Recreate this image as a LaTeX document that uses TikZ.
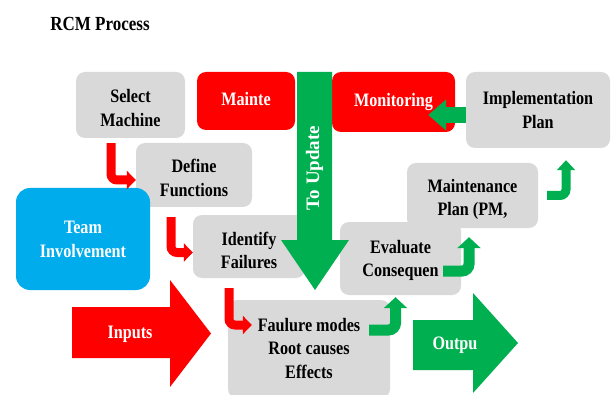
\documentclass[tikz,border=0pt]{standalone}
\usepackage{fontspec}
\setmainfont{Liberation Serif}
\usetikzlibrary{arrows.meta}
\definecolor{rcmred}{RGB}{255,0,0}
\definecolor{rcmgreen}{RGB}{0,176,80}
\definecolor{rcmgray}{RGB}{217,217,217}
\definecolor{rcmblue}{RGB}{0,172,236}
\newcommand{\sqz}[2][0pt]{\raisebox{#1}[\height][\depth]{\scalebox{0.85}[1]{\begin{tabular}{@{}c@{}}#2\end{tabular}}}}
\begin{document}
\begin{tikzpicture}[x=1pt,y=-1pt,
  box/.style={fill=rcmgray, rounded corners=9pt, align=center, font=\fontsize{19}{23.5}\selectfont\bfseries, text=black, inner sep=0pt},
  redbox/.style={box, fill=rcmred, text=white},
  bluebox/.style={box, fill=rcmblue, text=white, rounded corners=14pt},
  rconn/.style={draw=rcmred, line width=9pt, rounded corners=6pt, -{Triangle[width=18pt,length=9pt]}},
  gconn/.style={draw=rcmgreen, line width=11pt, rounded corners=7pt, -{Triangle[width=23pt,length=11pt]}},
  gsmall/.style={draw=rcmgreen, line width=9pt, rounded corners=6pt, -{Triangle[width=18pt,length=10pt]}},
  bigtext/.style={font=\fontsize{19}{23}\selectfont\bfseries, text=white, inner sep=0pt},
]
\useasboundingbox (0,0) rectangle (612,395);
\fill[white] (0,0) rectangle (612,395);

\node[font=\fontsize{20}{23}\selectfont\bfseries, inner sep=0pt] (title) at (100,26) {\sqz{RCM Process}};

% boxes
\node[box, minimum width=109pt, minimum height=66pt] (sel) at (130.5,105) {\sqz[-5pt]{Select\\Machine}};
\node[redbox, minimum width=98pt, minimum height=58pt] (mnt) at (246,101) {\sqz{Mainte}};
\node[redbox, minimum width=123pt, minimum height=60pt] (mon) at (393.5,102) {\sqz{Monitoring}};
\node[box, minimum width=144pt, minimum height=76pt] (imp) at (538,110) {\sqz[-2pt]{Implementation\\Plan}};
\node[box, minimum width=116pt, minimum height=64pt] (def) at (194,175) {\sqz[-5pt]{Define\\Functions}};
\node[bluebox, minimum width=134pt, minimum height=102pt] (team) at (83,239) {\sqz[-2pt]{Team\\Involvement}};
\node[box, minimum width=112pt, minimum height=63pt] (idf) at (249,246.5) {\sqz[-6pt]{Identify\\Failures}};
\node[box, minimum width=131pt, minimum height=65pt] (mp) at (472.5,195.5) {\sqz[-4pt]{Maintenance\\Plan (PM,}};
\node[box, minimum width=121pt, minimum height=73pt] (ev) at (400.5,258.5) {\sqz[-2pt]{Evaluate\\Consequen}};
\node[box, minimum width=162pt, minimum height=98pt] (fm) at (309,349) {\sqz[-1pt]{Faulure modes\\Root causes\\Effects}};

% big arrows
\fill[rcmred] (72,307) -- (170,307) -- (170,280) -- (211,333.5) -- (170,387) -- (170,358) -- (72,358) -- cycle;
\node[bigtext] (inp) at (130,334) {\sqz{Inputs}};
\fill[rcmgreen] (413,320) -- (473,320) -- (473,293) -- (518,343) -- (473,393) -- (473,370) -- (413,370) -- cycle;
\node[bigtext] (outp) at (455,345) {\sqz{Outpu}};
\fill[rcmgreen] (297,72) -- (332,72) -- (332,240) -- (349,240) -- (315,290) -- (281,240) -- (297,240) -- cycle;
\node[bigtext, rotate=90] (upd) at (314.5,168) {To Update};

% connectors
\draw[rconn] ([xshift=-19.5pt,yshift=-5pt]sel.south) |- ([yshift=-5pt]def.west);
\draw[rconn] ([xshift=-23pt,yshift=-10pt]def.south) |- ([yshift=-6pt]idf.west);
\draw[rconn] ([xshift=-20pt,yshift=-10pt]idf.south) |- ([xshift=24pt,yshift=24pt]fm.west);
\draw[gconn] ([xshift=-21pt,yshift=19pt]fm.east) -| ([xshift=-5pt,yshift=-2pt]ev.south);
\draw[gconn] ([xshift=-18pt,yshift=-12.5pt]ev.east) -| ([xshift=-3.5pt,yshift=-9pt]mp.south);
\draw[gsmall] ([xshift=9pt]mp.east) -| ([xshift=28pt,yshift=-12pt]imp.south);
\draw[draw=rcmgreen, line width=16pt, -{Triangle[width=30pt,length=18pt]}] ([yshift=-5pt]imp.west) -- ([xshift=-27pt,yshift=-13pt]mon.east);
\end{tikzpicture}
\end{document}
